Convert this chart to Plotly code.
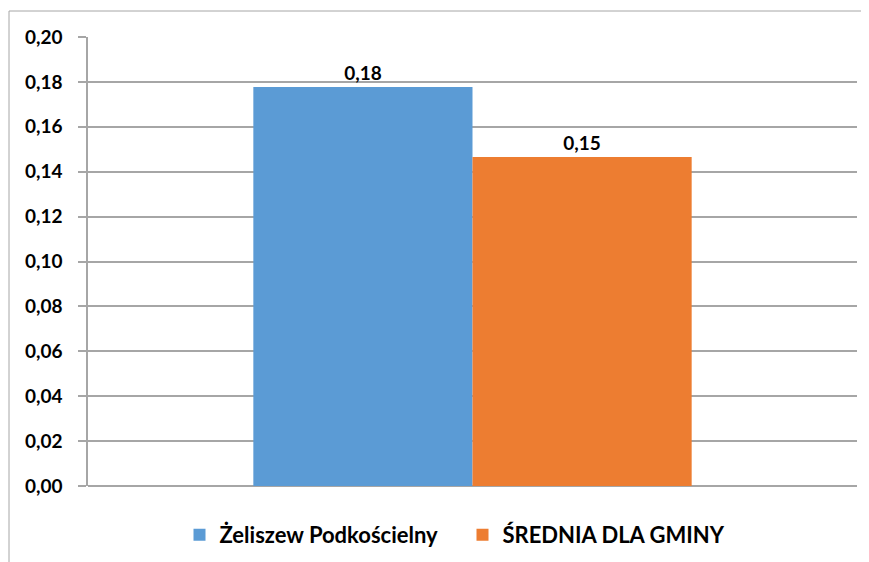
import plotly.graph_objects as go

categories = [""]
series_names = ["Żeliszew Podkościelny", "ŚREDNIA DLA GMINY"]
series_values = [[0.1777], [0.1465]]
colors = ["#5b9bd5", "#ed7d31"]
tick_vals = [0.00, 0.02, 0.04, 0.06, 0.08, 0.10, 0.12, 0.14, 0.16, 0.18, 0.20]

W, H = 861, 554
L, R, T, B = 80, 12, 29, 76

fig = go.Figure()
for name, vals, c in zip(series_names, series_values, colors):
    fig.add_trace(go.Bar(
        x=categories, y=vals, name=name, marker=dict(color=c, line=dict(width=0)),
        texttemplate="%{y:.2f}", textposition="outside", cliponaxis=False,
        textfont=dict(family="Lato", size=19, color="#000000", weight="bold"),
    ))

pw, ph = W - L - R, H - T - B
bx0 = (1 - L) / pw
by1 = (T + ph - 3) / ph
# outer chart border: top and left edges only (others are cut off)
fig.add_shape(type="line", xref="paper", yref="paper",
              x0=bx0, x1=(W + 20 - L) / pw, y0=by1, y1=by1,
              line=dict(color="#a6a6a6", width=1), layer="below")
fig.add_shape(type="line", xref="paper", yref="paper",
              x0=bx0, x1=bx0, y0=by1, y1=-(H + 20 - (T + ph)) / ph,
              line=dict(color="#a6a6a6", width=1), layer="below")

fig.update_layout(
    width=W, height=H,
    margin=dict(l=L, r=R, t=T, b=B, pad=0, autoexpand=False),
    paper_bgcolor="white", plot_bgcolor="white",
    separators=", ",
    barmode="group", bargap=0.43, bargroupgap=0,
    font=dict(family="Lato", size=16, color="#000000"),
    showlegend=True,
    legend=dict(orientation="h", x=0.487, xanchor="center", y=-0.109, yanchor="middle",
                font=dict(family="Lato", size=22, color="#000000", weight="bold"),
                itemwidth=30, entrywidth=238, entrywidthmode="pixels",
                traceorder="normal"),
    xaxis=dict(showticklabels=False, showgrid=False, showline=False, zeroline=False,
               ticks="", automargin=False),
    yaxis=dict(range=[0, 0.20], tickvals=tick_vals, tickformat=".2f", automargin=False,
               showgrid=True, gridcolor="#a6a6a6", gridwidth=1.5,
               showline=True, linecolor="#a6a6a6", linewidth=1.5,
               ticks="outside", ticklen=8, tickcolor="#a6a6a6", tickwidth=1.5,
               zeroline=True, zerolinecolor="#a6a6a6", zerolinewidth=1.5,
               tickfont=dict(family="Lato", size=19, color="#000000", weight="bold"),
               ticklabelstandoff=12),
)

fig.write_html("out.html")
